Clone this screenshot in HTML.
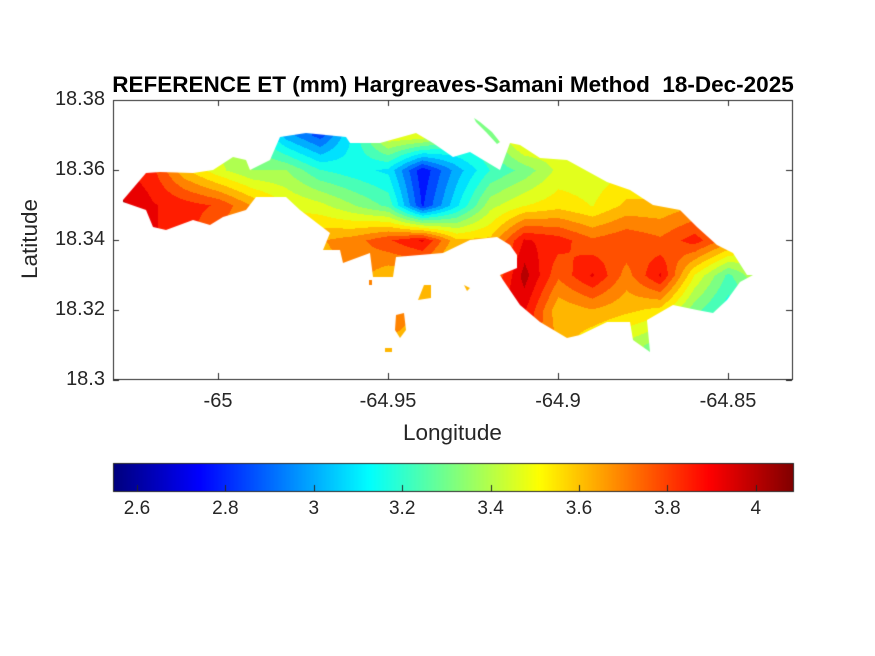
<!DOCTYPE html>
<html><head><meta charset="utf-8"><style>
html,body{margin:0;padding:0;background:#fff;}
#wrap{position:relative;width:875px;height:656px;font-family:"Liberation Sans",sans-serif;color:#262626;}
.t{position:absolute;font-size:20px;white-space:nowrap;}
</style></head><body>
<div id="wrap">
<div class="t" style="left:0;width:906px;text-align:center;top:72px;font-weight:bold;font-size:22.5px;color:#000;">REFERENCE ET (mm) Hargreaves-Samani Method&nbsp;&nbsp;18-Dec-2025</div>
<canvas id="c" width="875" height="656" style="position:absolute;left:0;top:0"></canvas>
<div id="labels"></div>
<div class="t" style="left:403px;top:420px;font-size:22.5px;">Longitude</div>
<div class="t" style="left:-10px;top:226px;font-size:22.5px;transform:rotate(-90deg);">Latitude</div>
</div>
<script>
const lonTicks=[-65,-64.95,-64.9,-64.85];
const latTicks=[18.38,18.36,18.34,18.32,18.3];
const cbTicks=[2.6,2.8,3,3.2,3.4,3.6,3.8,4];
const gridLon=[-65.03,-65.02,-65.01,-65.00,-64.99,-64.98,-64.97,-64.96,-64.95,-64.94,-64.93,-64.92,-64.91,-64.90,-64.89,-64.88,-64.87,-64.86,-64.85,-64.84];
const gridLat=[18.37,18.36,18.35,18.34,18.33,18.32,18.31];
const etValues=[
[3.8,3.7,3.5,3.4,3.3,3.0,2.85,3.15,3.5,3.5,3.3,3.3,3.6,3.5,3.5,3.5,3.6,3.6,3.5,3.5],
[3.9,3.85,3.6,3.45,3.35,3.35,3.2,3.15,3.1,2.75,3.0,3.2,3.3,3.45,3.45,3.5,3.5,3.5,3.5,3.5],
[4.0,3.9,3.85,3.8,3.65,3.5,3.45,3.35,3.25,2.8,3.1,3.4,3.5,3.55,3.5,3.6,3.6,3.65,3.6,3.5],
[3.9,3.9,3.85,3.7,3.6,3.6,3.65,3.7,3.8,3.9,3.6,3.6,3.9,3.85,3.75,3.8,3.75,3.85,3.7,3.5],
[3.8,3.8,3.8,3.7,3.6,3.6,3.6,3.7,3.6,3.6,3.5,3.7,4.0,3.75,3.9,3.7,3.9,3.5,3.25,3.45],
[3.8,3.8,3.8,3.7,3.6,3.6,3.6,3.7,3.8,3.6,3.6,3.95,3.9,3.6,3.65,3.6,3.55,3.3,3.15,3.3],
[3.6,3.6,3.6,3.6,3.6,3.6,3.6,3.6,3.6,3.6,3.6,3.6,3.8,3.65,3.5,3.4,3.3,3.2,3.3,3.3]];
const cmin=2.548,cmax=4.086;
const AX={l:113,r:792,t:100,b:379};
const xS=lon=>218+(lon+65)*3400;
const yS=lat=>100+(18.38-lat)*3500;
const cbX=v=>137+(v-2.6)/0.2*88.4;
const coastPx=[[123,200],[146,173],[160,172],[193,173],[213,170],[233,157],[246,160],[250,170],[270,160],[280,137],[306,133],[346,137],[350,143],[380,143],[416,133],[433,143],[453,157],[470,152],[500,170],[510,143],[520,145],[540,158],[567,160],[607,182],[630,190],[653,205],[680,210],[697,227],[717,245],[733,253],[747,275],[753,275],[740,282],[727,300],[713,313],[697,310],[673,305],[647,320],[650,352],[633,340],[630,322],[607,322],[580,335],[567,338],[540,322],[520,305],[503,280],[500,275],[517,268],[517,255],[510,245],[497,237],[470,240],[443,253],[396,257],[393,277],[373,277],[370,253],[343,263],[340,250],[323,250],[330,233],[300,210],[286,197],[256,197],[246,210],[223,217],[210,225],[193,220],[166,230],[153,227],[146,210],[123,202]];
const islets=[[[396,315],[404,313],[406,330],[400,338],[395,330]],[[420,295],[424,285],[431,285],[431,298],[418,300]],[[464,285],[470,288],[467,291]],[[385,348],[392,348],[392,352],[385,352]],[[369,280],[372,280],[372,285],[369,285]],[[474,118],[480,122],[492,132],[500,142],[497,144],[486,132],[476,122]]];
function jet(t){t=Math.max(0,Math.min(1,t));
const r=Math.max(0,Math.min(1,1.5-Math.abs(4*t-3))),g=Math.max(0,Math.min(1,1.5-Math.abs(4*t-2))),b=Math.max(0,Math.min(1,1.5-Math.abs(4*t-1)));return [r*255,g*255,b*255];}
function val(lon,lat){
 let fi=(lon-gridLon[0])/(gridLon[1]-gridLon[0]),fj=(gridLat[0]-lat)/(gridLat[0]-gridLat[1]);
 fi=Math.max(0,Math.min(gridLon.length-1.001,fi));fj=Math.max(0,Math.min(gridLat.length-1.001,fj));
 const i=Math.floor(fi),j=Math.floor(fj),u=fi-i,w=fj-j;
 const a=etValues[j][i],b=etValues[j][i+1],c=etValues[j+1][i],d=etValues[j+1][i+1];
 return a*(1-u)*(1-w)+b*u*(1-w)+c*(1-u)*w+d*u*w;}
const cv=document.getElementById('c'),ctx=cv.getContext('2d');
const off=document.createElement('canvas');off.width=875;off.height=656;const oc=off.getContext('2d');
const img=oc.createImageData(AX.r-AX.l,AX.b-AX.t);
for(let y=0;y<AX.b-AX.t;y++)for(let x=0;x<AX.r-AX.l;x++){
 const lon=-65+(x+AX.l-218)/3400,lat=18.38-(y+AX.t-100)/3500;
 let v=val(lon,lat);v=Math.round(v/0.077)*0.077;
 const col=jet((v-cmin)/(cmax-cmin));const k=(y*(AX.r-AX.l)+x)*4;
 img.data[k]=col[0];img.data[k+1]=col[1];img.data[k+2]=col[2];img.data[k+3]=255;}
oc.putImageData(img,AX.l,AX.t);
ctx.save();ctx.beginPath();
[coastPx,...islets].forEach(p=>{ctx.moveTo(p[0][0],p[0][1]);p.slice(1).forEach(q=>ctx.lineTo(q[0],q[1]));ctx.closePath();});
ctx.clip();ctx.drawImage(off,0,0);ctx.restore();
ctx.strokeStyle='#262626';ctx.lineWidth=1;ctx.strokeRect(AX.l+0.5,AX.t+0.5,AX.r-AX.l,AX.b-AX.t);
ctx.beginPath();
lonTicks.forEach(v=>{const x=Math.round(xS(v))+0.5;ctx.moveTo(x,AX.b);ctx.lineTo(x,AX.b-6);ctx.moveTo(x,AX.t);ctx.lineTo(x,AX.t+6);});
latTicks.forEach(v=>{const y=Math.round(yS(v))+0.5;ctx.moveTo(AX.l,y);ctx.lineTo(AX.l+6,y);ctx.moveTo(AX.r,y);ctx.lineTo(AX.r-6,y);});
ctx.stroke();
for(let x=114;x<794;x++){const v=2.6+(x-137)/88.4*0.2;const c=jet((v-cmin)/(cmax-cmin));ctx.fillStyle=`rgb(${c[0]|0},${c[1]|0},${c[2]|0})`;ctx.fillRect(x,463,1,28);}
ctx.strokeRect(113.5,463.5,680,28);
ctx.beginPath();cbTicks.forEach(v=>{const x=Math.round(cbX(v))+0.5;ctx.moveTo(x,491);ctx.lineTo(x,485);});ctx.stroke();
const L=document.getElementById('labels');
lonTicks.forEach(v=>{const d=document.createElement('div');d.className='t';


d.textContent=String(v);d.style.left=(xS(v)-60)+'px';d.style.width='120px';d.style.textAlign='center';d.style.top='390px';L.appendChild(d);});
latTicks.forEach(v=>{const d=document.createElement('div');d.className='t';


d.textContent=String(v);d.style.right=(875-105)+'px';d.style.top=(yS(v)-12)+'px';L.appendChild(d);});
cbTicks.forEach(v=>{const d=document.createElement('div');d.className='t';


d.textContent=String(v);d.style.left=(cbX(v)-40)+'px';d.style.width='80px';d.style.textAlign='center';d.style.top='498px';d.style.fontSize='19px';L.appendChild(d);});
</script>
</body></html>
